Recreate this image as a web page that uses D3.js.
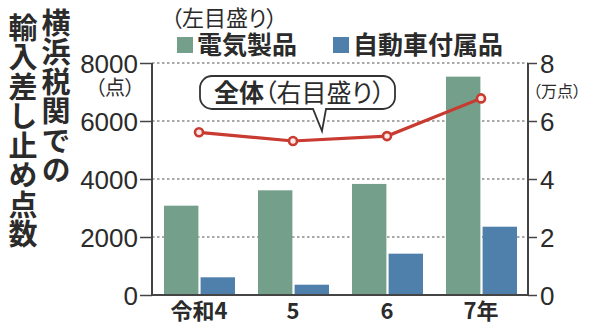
<!DOCTYPE html>
<html>
<head>
<meta charset="utf-8">
<script src="https://cdn.jsdelivr.net/npm/d3@7"></script>
<style>
  body { margin: 0; background: #fff; }
  svg { display: block; }
  text { fill: #2b2b2b; }
  .jp { font-family: "Noto Sans CJK JP", sans-serif; }
  .palt { font-feature-settings: "palt"; }
  .num { font-family: "Liberation Sans", Arial, sans-serif; }
  .vert { writing-mode: vertical-rl; }
</style>
</head>
<body>
<svg id="chart" width="590" height="326"></svg>
<script>
// data
var years = ["令和4", "5", "6", "7年"];
var series = ["電気製品", "自動車付属品"];
var electric = [3080, 3610, 3830, 7530];     // 点 (left axis)
var carParts = [610, 355, 1425, 2355];       // 点 (left axis)
var total = [5.61, 5.31, 5.48, 6.78];        // 万点 (right axis)
var leftTicks = [0, 2000, 4000, 6000, 8000];
var rightTicks = [0, 2, 4, 6, 8];
var titleLines = ["横浜税関での", "輸入差し止め点数"];

var colors = {"電気製品": "#74a08b", "自動車付属品": "#4f7fab"};
var red = "#c93a30";

var svg = d3.select("#chart");
var margin = {top: 63, left: 152, right: 62, bottom: 31};
var width = 590 - margin.left - margin.right;
var height = 326 - margin.top - margin.bottom;
var g = svg.append("g")
    .attr("transform", "translate(" + margin.left + "," + margin.top + ")");

// scales
var x = d3.scaleBand().domain(years).range([0, width]);
var xSub = d3.scaleBand().domain(series).range([12, x.bandwidth() - 11]).paddingInner(0.06);
var y = d3.scaleLinear().domain([0, 8000]).range([height, 0]);
var y2 = d3.scaleLinear().domain([0, 8]).range([height, 0]);

// dotted gridlines
g.selectAll(".grid")
  .data(leftTicks.filter(function(d) { return d > 0; }))
  .enter().append("line")
    .attr("x1", 0)
    .attr("x2", width)
    .attr("y1", function(d) { return y(d); })
    .attr("y2", function(d) { return y(d); })
    .attr("stroke", "#555")
    .attr("stroke-width", 1.2)
    .attr("stroke-dasharray", "2.5,2.5");

// bars
var rows = years.map(function(yr, i) {
  return {year: yr, values: [{s: series[0], v: electric[i]}, {s: series[1], v: carParts[i]}]};
});
g.selectAll(".group")
  .data(rows)
  .enter().append("g")
    .attr("transform", function(d) { return "translate(" + x(d.year) + ",0)"; })
  .selectAll("rect")
  .data(function(d) { return d.values; })
  .enter().append("rect")
    .attr("x", function(d) { return xSub(d.s); })
    .attr("width", xSub.bandwidth())
    .attr("y", function(d) { return y(d.v); })
    .attr("height", function(d) { return height - y(d.v); })
    .attr("fill", function(d) { return colors[d.s]; });

// axes
var yAxis = d3.axisLeft(y).tickValues(leftTicks).tickFormat(d3.format("d"))
  .tickSize(12).tickPadding(2);
var yAxis2 = d3.axisRight(y2).tickValues(rightTicks).tickFormat(d3.format("d"))
  .tickSize(9).tickPadding(3);

var gy = g.append("g").call(yAxis);
var gy2 = g.append("g").attr("transform", "translate(" + width + ",0)").call(yAxis2);
[gy, gy2].forEach(function(a) {
  a.select(".domain").remove();
  a.selectAll(".tick line").attr("stroke", "#444").attr("stroke-width", 1.5);
  a.selectAll(".tick text")
    .attr("class", "num")
    .attr("font-size", 26)
    .attr("fill", "#333")
    .attr("dy", "0.36em");
});

// axis frame
g.append("line").attr("x1", 0).attr("x2", 0).attr("y1", 0).attr("y2", height)
  .attr("stroke", "#444").attr("stroke-width", 2);
g.append("line").attr("x1", width).attr("x2", width).attr("y1", 0).attr("y2", height)
  .attr("stroke", "#444").attr("stroke-width", 2);
g.append("line").attr("x1", 0).attr("x2", width).attr("y1", height).attr("y2", height)
  .attr("stroke", "#444").attr("stroke-width", 2);

// unit labels
g.append("text").attr("class", "jp palt")
  .attr("x", -17).attr("y", 32)
  .attr("text-anchor", "end")
  .attr("font-size", 20)
  .text("（点）");
g.append("text").attr("class", "jp palt")
  .attr("x", width + 5).attr("y", 34)
  .attr("font-size", 16)
  .text("（万点）");

// category labels
var xAxis = d3.axisBottom(x).tickSize(0).tickPadding(8);
var gx = g.append("g").attr("transform", "translate(0," + height + ")").call(xAxis);
gx.select(".domain").remove();
gx.selectAll(".tick text")
  .attr("class", "jp")
  .attr("font-size", 22)
  .attr("font-weight", 700)
  .attr("fill", "#2b2b2b");

// total line (right axis)
var line = d3.line()
  .x(function(d, i) { return x(years[i]) + x.bandwidth() / 2; })
  .y(function(d) { return y2(d); });

g.append("path")
  .attr("d", line(total))
  .attr("fill", "none")
  .attr("stroke", red)
  .attr("stroke-width", 3.2);

g.selectAll(".dot")
  .data(total)
  .enter().append("circle")
    .attr("cx", function(d, i) { return x(years[i]) + x.bandwidth() / 2; })
    .attr("cy", function(d) { return y2(d); })
    .attr("r", 4)
    .attr("fill", "#fbe9e6")
    .attr("stroke", red)
    .attr("stroke-width", 2.6);

// callout
var bx = 200, by = 76, bw = 195, bh = 33, r = 12;
var px1 = 313, px2 = 326, tipX = 322, tipY = 131;
var p = d3.path();
p.moveTo(bx + r, by);
p.lineTo(bx + bw - r, by);
p.arcTo(bx + bw, by, bx + bw, by + r, r);
p.lineTo(bx + bw, by + bh - r);
p.arcTo(bx + bw, by + bh, bx + bw - r, by + bh, r);
p.lineTo(px2, by + bh);
p.lineTo(tipX, tipY);
p.lineTo(px1, by + bh);
p.lineTo(bx + r, by + bh);
p.arcTo(bx, by + bh, bx, by + bh - r, r);
p.lineTo(bx, by + r);
p.arcTo(bx, by, bx + r, by, r);
p.closePath();
svg.append("path")
  .attr("d", p.toString())
  .attr("fill", "#fff")
  .attr("stroke", "#333")
  .attr("stroke-width", 1.8);

var callout = svg.append("text").attr("class", "jp palt")
  .attr("x", 214).attr("y", 102)
  .attr("font-size", 25);
callout.append("tspan").attr("font-weight", 700).text("全体");
callout.append("tspan").attr("font-weight", 400).text("（右目盛り）");

// legend
svg.append("text").attr("class", "jp palt")
  .attr("x", 171).attr("y", 26)
  .attr("font-size", 22)
  .text("（左目盛り）");

var legendX = [177, 333];
var leg = svg.selectAll(".legend")
  .data(series)
  .enter().append("g")
    .attr("transform", function(d, i) { return "translate(" + legendX[i] + ",37)"; });
leg.append("rect")
  .attr("width", 16).attr("height", 16)
  .attr("fill", function(d) { return colors[d]; });
leg.append("text").attr("class", "jp")
  .attr("x", 20).attr("y", 17)
  .attr("font-size", 25)
  .attr("font-weight", 700)
  .text(function(d) { return d; });

// vertical title, two columns right to left
var colX = [56, 23];
var colTop = [8, 13];
svg.selectAll(".title")
  .data(titleLines)
  .enter().append("text")
    .attr("class", "jp vert")
    .attr("x", function(d, i) { return colX[i]; })
    .attr("y", function(d, i) { return colTop[i]; })
    .attr("font-size", 29)
    .attr("font-weight", 700)
    .attr("letter-spacing", 0.5)
    .text(function(d) { return d; });
</script>
</body>
</html>
